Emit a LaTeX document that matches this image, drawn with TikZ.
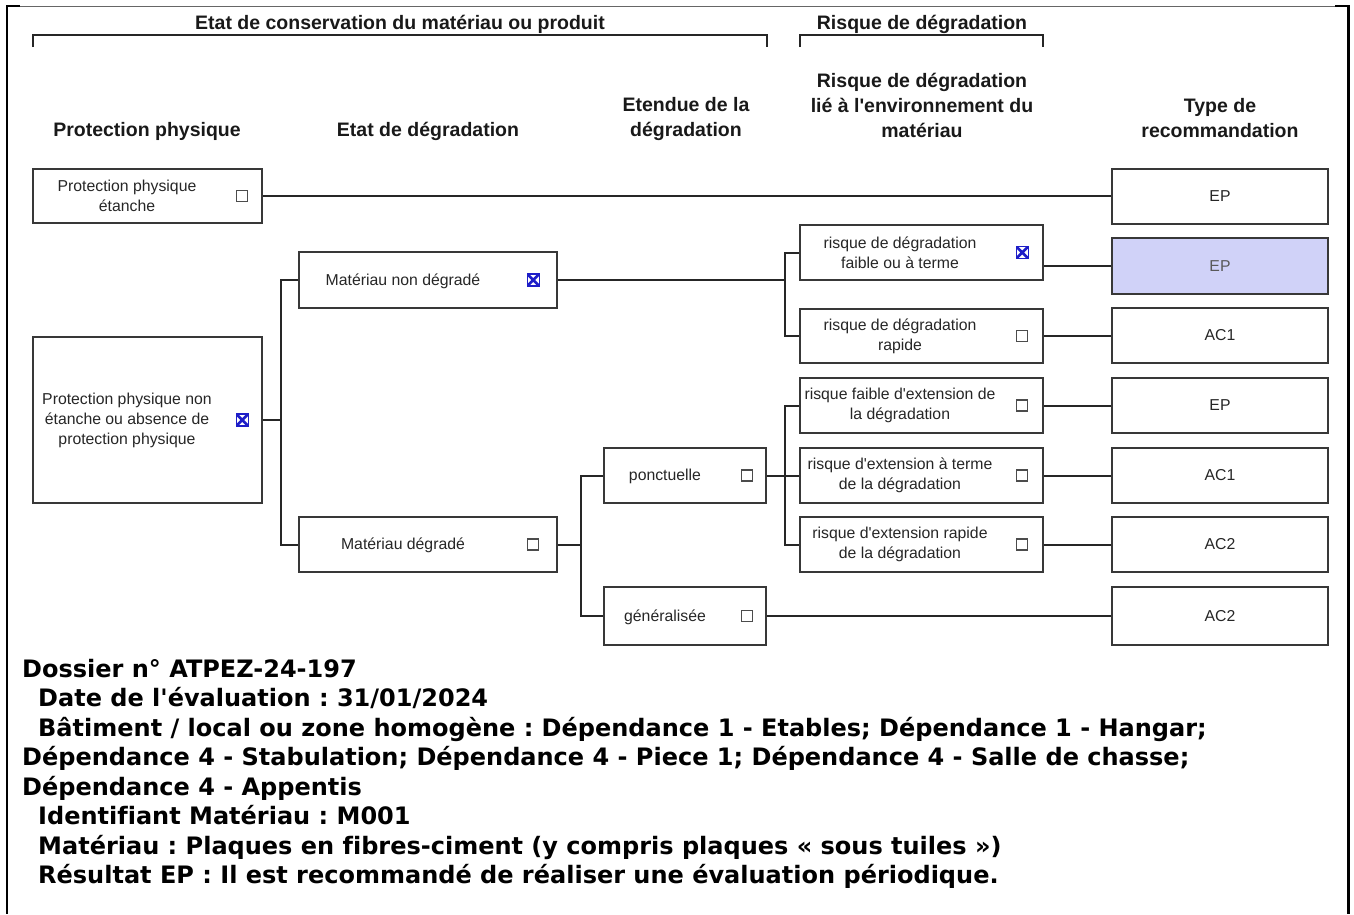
\documentclass[tikz,border=0pt]{standalone}
\usepackage{fontspec}
\setmainfont{Liberation Sans}[Ligatures={TeXOff,NoCommon}]
\newfontfamily\notefont{DejaVu Sans}[Ligatures={TeXOff,NoCommon}]
\usetikzlibrary{calc}

\definecolor{pickfill}{RGB}{208,210,248}
\definecolor{tick}{RGB}{30,30,200}

\begin{document}
\frenchspacing
\begin{tikzpicture}[x=1pt,y=-1pt]
    \tikzstyle{box}=[draw=black!78, line width=2.4pt, inner sep=0pt]
    \tikzstyle{txt}=[align=center, inner sep=0pt, text=black!85, font=\fontsize{15.8}{20}\selectfont]
    \tikzstyle{head}=[align=center, inner sep=0pt, text=black!90, font=\bfseries\fontsize{19.5}{25}\selectfont]
    \tikzstyle{chk}=[draw=black!70, line width=1.1pt, minimum size=11pt, inner sep=0pt]
    \tikzstyle{chkx}=[chk, draw=tick, line width=1.4pt, minimum size=12pt, path picture={
        \draw[tick, line width=2.6pt] (path picture bounding box.north west) -- (path picture bounding box.south east)
            (path picture bounding box.north east) -- (path picture bounding box.south west);}]
    \tikzstyle{wire}=[draw=black!85, line width=2pt]

    \useasboundingbox (0,0) rectangle (1354,914);

    % page frame
    \draw[black!60, line width=0.6pt] (6,6) -- (1349,6);
    \draw[line width=2pt] (6,6) -- (20,6);
    \draw[line width=2pt] (1335,6) -- (1349,6);
    \draw[line width=2pt] (7,5) -- (7,914);
    \draw[line width=3pt] (1348.5,5) -- (1348.5,914);

    % headers
    \node[head] (hcons) at (400,24) {Etat de conservation du matériau ou produit};
    \node[head] (hrisk) at (922,24) {Risque de dégradation};
    \coordinate (ca) at (33,35);
    \coordinate (cb) at (767,35);
    \coordinate (ra) at (800,35);
    \coordinate (rb) at (1043,35);
    \draw[wire] ($(ca)+(0,12)$) -- (ca) -- (cb) -- ($(cb)+(0,12)$);
    \draw[wire] ($(ra)+(0,12)$) -- (ra) -- (rb) -- ($(rb)+(0,12)$);

    \node[head] (hprot) at (147,131) {Protection physique};
    \node[head] (hetat) at (428,131) {Etat de dégradation};
    \node[head] (hext) at (686,118.5) {Etendue de la\\dégradation};
    \node[head] (henv) at (922,105) {Risque de dégradation\\lié à l'environnement du\\matériau};
    \node[head] (htype) at (1220,118.5) {Type de\\recommandation};

    % protection physique
    \node[box, minimum width=229pt, minimum height=54pt] (pe) at (147.5,196) {};
    \node[txt] (pe-t) at ($(pe)+(-20.5,0)$) {Protection physique\\étanche};
    \node[chk] (pe-c) at ($(pe.east)+(-21,0)$) {};

    \node[box, minimum width=229pt, minimum height=166pt] (pne) at (147.5,420) {};
    \node[txt] (pne-t) at ($(pne)+(-20.5,0)$) {Protection physique non\\étanche ou absence de\\protection physique};
    \node[chkx] (pne-c) at ($(pne.east)+(-21,0)$) {};

    % etat de degradation
    \node[box, minimum width=258pt, minimum height=56pt] (mnd) at (428,280) {};
    \node[txt] (mnd-t) at ($(mnd)+(-25,1)$) {Matériau non dégradé};
    \node[chkx] (mnd-c) at ($(mnd.east)+(-25,0)$) {};

    \node[box, minimum width=258pt, minimum height=55pt] (md) at (428,544.5) {};
    \node[txt] (md-t) at ($(md)+(-25,1)$) {Matériau dégradé};
    \node[chk] (md-c) at ($(md.east)+(-25,0)$) {};

    % etendue
    \node[box, minimum width=162pt, minimum height=55pt] (ponc) at (685,475.5) {};
    \node[txt] (ponc-t) at ($(ponc)+(-20,1)$) {ponctuelle};
    \node[chk] (ponc-c) at ($(ponc.east)+(-20,0)$) {};

    \node[box, minimum width=162pt, minimum height=58pt] (gen) at (685,616) {};
    \node[txt] (gen-t) at ($(gen)+(-20,1)$) {généralisée};
    \node[chk] (gen-c) at ($(gen.east)+(-20,0)$) {};

    % risque lie a l'environnement
    \node[box, minimum width=243pt, minimum height=55pt] (rfa) at (921.5,252.5) {};
    \node[txt] (rfa-t) at ($(rfa)+(-21.5,0)$) {risque de dégradation\\faible ou à terme};
    \node[chkx] (rfa-c) at ($(rfa.east)+(-22,0)$) {};

    \node[box, minimum width=243pt, minimum height=54pt] (rra) at (921.5,336) {};
    \node[txt] (rra-t) at ($(rra)+(-21.5,0)$) {risque de dégradation\\rapide};
    \node[chk] (rra-c) at ($(rra.east)+(-22,0)$) {};

    \node[box, minimum width=243pt, minimum height=55pt] (xfa) at (921.5,405.5) {};
    \node[txt] (xfa-t) at ($(xfa)+(-21.5,0)$) {risque faible d'extension de\\la dégradation};
    \node[chk] (xfa-c) at ($(xfa.east)+(-22,0)$) {};

    \node[box, minimum width=243pt, minimum height=55pt] (xte) at (921.5,475.5) {};
    \node[txt] (xte-t) at ($(xte)+(-21.5,0)$) {risque d'extension à terme\\de la dégradation};
    \node[chk] (xte-c) at ($(xte.east)+(-22,0)$) {};

    \node[box, minimum width=243pt, minimum height=55pt] (xra) at (921.5,544.5) {};
    \node[txt] (xra-t) at ($(xra)+(-21.5,0)$) {risque d'extension rapide\\de la dégradation};
    \node[chk] (xra-c) at ($(xra.east)+(-22,0)$) {};

    % type de recommandation
    \node[box, minimum width=216pt, minimum height=55pt] (t1) at (1220,196.5) {};
    \node[txt] (t1-t) at (t1) {EP};
    \node[box, fill=pickfill, minimum width=216pt, minimum height=56pt] (t2) at (1220,266) {};
    \node[txt, text=black!65] (t2-t) at (t2) {EP};
    \node[box, minimum width=216pt, minimum height=55pt] (t3) at (1220,335.5) {};
    \node[txt] (t3-t) at (t3) {AC1};
    \node[box, minimum width=216pt, minimum height=55pt] (t4) at (1220,405.5) {};
    \node[txt] (t4-t) at (t4) {EP};
    \node[box, minimum width=216pt, minimum height=55pt] (t5) at (1220,475.5) {};
    \node[txt] (t5-t) at (t5) {AC1};
    \node[box, minimum width=216pt, minimum height=55pt] (t6) at (1220,544.5) {};
    \node[txt] (t6-t) at (t6) {AC2};
    \node[box, minimum width=216pt, minimum height=58pt] (t7) at (1220,616) {};
    \node[txt] (t7-t) at (t7) {AC2};

    % tree connectors
    \coordinate (j1) at ($(pne.east)+(18,0)$);
    \coordinate (j2) at ($(mnd.east)+(227,0)$);
    \coordinate (j3) at ($(md.east)+(23,0)$);
    \coordinate (j4) at ($(ponc.east)+(18,0)$);

    \draw[wire] (pe.east) -- (pe.east -| t1.west);
    \draw[wire] (pne.east) -- (j1) (j1) |- (mnd.west) (j1) |- (md.west);
    \draw[wire] (mnd.east) -- (j2) (j2) |- (rfa.west) (j2) |- (rra.west);
    \draw[wire] (md.east) -- (j3) (j3) |- (ponc.west) (j3) |- (gen.west);
    \draw[wire] (ponc.east) -- (j4) (j4) |- (xfa.west) (j4) |- (xte.west) (j4) |- (xra.west);
    \draw[wire] (gen.east) -- (gen.east -| t7.west);
    \draw[wire] (rfa.east |- t2.west) -- (t2.west);
    \draw[wire] (rra.east) -- (rra.east -| t3.west);
    \draw[wire] (xfa.east) -- (xfa.east -| t4.west);
    \draw[wire] (xte.east) -- (xte.east -| t5.west);
    \draw[wire] (xra.east) -- (xra.east -| t6.west);

    % dossier
    \node[anchor=north west, align=left, inner sep=0pt, font=\notefont\bfseries\fontsize{24}{29.5}\selectfont] (note) at (22,659) {%
        Dossier n° ATPEZ-24-197\\
        \hspace*{16pt}Date de l'évaluation : 31/01/2024\\
        \hspace*{16pt}Bâtiment / local ou zone homogène : Dépendance 1 - Etables; Dépendance 1 - Hangar;\\
        Dépendance 4 - Stabulation; Dépendance 4 - Piece 1; Dépendance 4 - Salle de chasse;\\
        Dépendance 4 - Appentis\\
        \hspace*{16pt}Identifiant Matériau : M001\\
        \hspace*{16pt}Matériau : Plaques en fibres-ciment (y compris plaques « sous tuiles »)\\
        \hspace*{16pt}Résultat EP : Il est recommandé de réaliser une évaluation périodique.};
\end{tikzpicture}
\end{document}
